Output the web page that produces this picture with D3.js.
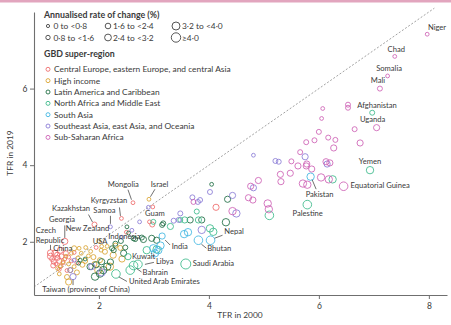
<!DOCTYPE html>
<html>
<head>
<meta charset="utf-8">
<script src="https://cdn.jsdelivr.net/npm/d3@7"></script>
<style>
body { margin: 0; background: #fff; }
text { font-family: Lato, "Open Sans", sans-serif; fill: #3a3a3a; }
</style>
</head>
<body>
<svg width="451" height="325"></svg>
<script>
// TFR in 2000 vs TFR in 2019, one circle per country
// each row: [TFR 2000, TFR 2019]
var centralEurope = [[1.12,1.62],[1.15,1.55],[1.18,1.48],[1.20,1.70],[1.22,1.42],[1.25,1.58],[1.28,1.50],[1.30,1.35],
    [1.32,1.62],[1.17,1.38],[1.35,1.45],[1.38,1.55],[1.24,1.66],[1.40,1.70],[1.30,1.78],[1.45,1.60],[1.28,1.28],
    [1.50,1.50],[1.55,1.72],[1.60,1.45],[1.42,1.25],[2.97,2.45],[2.92,2.52],[4.13,2.90],[2.98,2.91],[1.95,1.85],[2.50,2.25]];
var highIncome = [[1.30,1.37],[1.28,1.16],[1.48,1.26],[1.75,1.50],[1.81,1.63],[2.02,1.52],[2.11,1.74],[2.26,1.65],
    [2.39,1.84],[2.42,1.55],[2.20,1.35],[1.99,1.26],[1.55,1.83],[1.64,1.83],[1.76,1.85],[1.40,1.62],[1.35,1.48],
    [1.45,1.42],[1.55,1.35],[1.62,1.58],[1.68,1.70],[1.70,1.40],[1.85,1.75],[1.90,1.60],[1.60,1.20],[1.42,1.08],
    [1.45,0.95],[1.25,1.30],[2.30,1.90],[2.15,1.88],[1.92,1.42],[2.05,1.88],[1.50,1.70]];
var latinAmerica = [[1.66,1.52],[1.63,1.44],[1.84,1.35],[1.93,1.09],[2.05,1.48],[2.15,1.35],[2.08,1.26],[2.02,1.17],
    [2.24,1.83],[2.27,1.78],[2.48,1.85],[2.51,2.39],[2.54,2.23],[2.63,2.09],[2.66,2.07],[2.81,2.06],[2.78,2.11],
    [2.96,2.09],[3.05,2.04],[3.15,2.44],[3.17,2.48],[3.66,2.57],[3.87,2.57],[4.05,3.50],[4.34,3.11],[4.31,2.51],
    [2.21,1.47],[2.30,1.95],[1.75,1.55],[2.40,2.02],[2.45,1.70],[1.95,1.40]];
var northAfrica = [[6.25,3.63],[5.10,2.69],[2.57,1.26],[2.87,1.78],[3.05,1.80],[2.99,2.52],[3.48,2.57],[3.56,2.57],
    [3.78,2.79],[3.81,2.57],[4.02,2.35],[4.08,2.26],[3.30,2.40]];
var southAsia = [[2.99,1.83],[3.08,1.78],[3.12,1.90],[3.02,1.70],[3.55,2.20],[3.62,2.25]];
var southeastAsia = [[4.81,4.26],[5.21,4.11],[5.27,4.09],[5.75,4.22],[6.15,4.03],[4.43,3.21],[4.50,2.74],[4.81,3.41],
    [3.84,3.09],[3.70,3.16],[3.80,3.04],[3.48,2.74],[3.36,2.55],[2.74,2.52],[3.45,2.57],[3.87,2.31],[1.48,1.26],
    [1.87,1.35],[2.05,1.20],[2.60,2.30],[4.02,3.30]];
var subSaharan = [[6.53,5.50],[6.53,5.58],[6.07,5.48],[6.05,5.22],[6.65,4.94],[6.00,4.87],[6.17,4.72],[6.30,4.66],
    [5.92,4.65],[5.77,4.60],[6.75,4.58],[6.27,4.45],[5.66,4.34],[5.62,3.98],[5.78,4.03],[5.77,3.98],[5.87,3.90],
    [6.13,4.09],[6.04,3.68],[6.18,3.63],[5.30,3.76],[5.48,3.79],[5.31,3.57],[5.71,3.52],[5.79,3.49],[4.76,3.45],
    [4.72,3.15],[4.80,3.09],[5.07,3.00],[5.09,2.85],[4.43,2.80],[3.72,3.04],[6.20,4.06],[4.90,3.60],[5.50,4.10]];

// labelled countries: [name, region index, TFR 2000, TFR 2019]
var namedCountries = [
    ["Niger", 6, 7.97, 7.42], ["Chad", 6, 7.38, 6.84], ["Somalia", 6, 7.25, 6.33], ["Mali", 6, 7.11, 6.00],
    ["Afghanistan", 3, 6.97, 5.37], ["Uganda", 6, 7.05, 4.98], ["Yemen", 3, 6.93, 3.87],
    ["Equatorial Guinea", 6, 6.45, 3.45], ["Pakistan", 4, 5.85, 3.70], ["Palestine", 3, 5.79, 2.97],
    ["Nepal", 4, 4.03, 2.04], ["Bhutan", 4, 3.81, 2.04], ["India", 4, 3.15, 2.15], ["Saudi Arabia", 3, 3.58, 1.42],
    ["Libya", 3, 2.71, 1.41], ["Kuwait", 3, 2.53, 1.61], ["Bahrain", 3, 2.63, 1.38],
    ["United Arab Emirates", 3, 2.31, 1.16], ["Taiwan (province of China)", 5, 1.53, 1.09], ["China", 5, 1.55, 1.52],
    ["Czech Republic", 0, 1.12, 1.71], ["Georgia", 0, 1.38, 2.01], ["Kazakhstan", 0, 1.92, 2.45],
    ["New Zealand", 1, 2.00, 2.02], ["USA", 1, 2.04, 1.78], ["Samoa", 5, 2.21, 2.39], ["Kyrgyzstan", 0, 2.41, 2.61],
    ["Mongolia", 0, 2.62, 3.02], ["Israel", 1, 2.91, 3.11], ["Guam", 5, 2.90, 2.90], ["Indonesia", 5, 2.42, 2.12]
];

var regionNames = ["Central Europe, eastern Europe, and central Asia", "High income", "Latin America and Caribbean",
    "North Africa and Middle East", "South Asia", "Southeast Asia, east Asia, and Oceania", "Sub-Saharan Africa"];
var rateLabels = ["0 to <0\u00b78", "0\u00b78 to <1\u00b76", "1\u00b76 to <2\u00b74", "2\u00b74 to <3\u00b72", "3\u00b72 to <4\u00b70", "\u22654\u00b70"];
var rateBreaks = [0.8, 1.6, 2.4, 3.2, 4.0];
var xTicks = [2, 4, 6, 8];
var yTicks = [2, 4, 6];

// layout
var regionColors = ["#ee6c6c", "#d9a431", "#1f6d43", "#3bb98a", "#40b6e2", "#8a7cd6", "#cd61b5"];
var radii = [1.9, 2.5, 3.1, 3.7, 4.3, 5.0];

// label offsets from the point in px: [dx, dy, anchor, leader x1,y1,x2,y2]
var labelLayout = {
    "Niger": [0.7, -4.2, "start"], "Chad": [1.5, -4.8, "middle"], "Somalia": [1.5, -5, "middle"],
    "Mali": [-2, -6, "middle"], "Afghanistan": [-15, -5, "start"], "Uganda": [-4, -5.7, "middle"],
    "Yemen": [0, -6.2, "middle"], "Equatorial Guinea": [7, 1.5, "start"],
    "Pakistan": [9, 20.3, "middle", 1.5, 3, 5.5, 12.5], "Palestine": [0.4, 11.7, "middle"],
    "Nepal": [13.7, -6.2, "start", 4, -2, 12, -5], "Bhutan": [8.8, 10.8, "start", 3, 4, 8, 8],
    "India": [9.5, 13.3, "start", 3, 4, 8, 9], "Saudi Arabia": [7, 2, "start"],
    "Libya": [18, -0.7, "start", 7, 0, 16, -2], "Kuwait": [4, 2.3, "start"],
    "Bahrain": [9, 9.8, "start", 3, 3, 8, 6.5], "United Arab Emirates": [13, 10, "start", 3, 3, 11, 7.5],
    "Taiwan (province of China)": [13, 15, "middle", 0, 3, 0, 8.5], "China": [-21, -9, "start"],
    "Czech Republic": [-14.7, -10.2, "start", 0, -3, 0, -8], "Georgia": [-2.8, -19.4, "middle", 0, -3.5, 0, -16],
    "Kazakhstan": [-4.5, -13.5, "end", -2, -2.5, -6, -10], "New Zealand": [10.4, -10, "end"],
    "USA": [-1, -6.2, "middle"], "Samoa": [-6, -14, "middle", 0, -3, 0, -11],
    "Kyrgyzstan": [-12.5, -15, "middle", -1, -2.5, -2, -11], "Mongolia": [-9.7, -16, "middle", -1.5, -3, -5, -13],
    "Israel": [10.7, -12.6, "middle", 1.5, -2.5, 6, -10], "Guam": [6.6, 8.4, "middle"],
    "Indonesia": [-13.7, 1.5, "start"]
};

var svg = d3.select("svg");
var plotLeft = 34, plotRight = 447, plotTop = 12, plotBottom = 295;

var x = d3.scaleLinear().domain([0.82, 8.33]).range([plotLeft, plotRight]);
var y = d3.scaleLinear().domain([0.61, 8.0]).range([plotBottom, plotTop]);
var size = d3.scaleThreshold().domain(rateBreaks).range(radii);

// annualised rate of change, absolute, in %
function rate(d) { return Math.abs(Math.log(d[1] / d[0]) / 19 * 100); }

// pink strip at the top
svg.append("rect").attr("x", 0).attr("y", 0).attr("width", 451).attr("height", 2.5).attr("fill", "#e2a5be");

// y = x reference line
svg.append("line")
    .attr("x1", x(0.82)).attr("y1", y(0.82)).attr("x2", x(8.1)).attr("y2", y(8.1))
    .attr("stroke", "#8a8a8a").attr("stroke-width", 0.8).attr("stroke-dasharray", "2,1.8");

// axes
var xAxis = svg.append("g").attr("transform", "translate(0," + plotBottom + ")")
    .call(d3.axisBottom(x).tickValues(xTicks).tickSize(4).tickSizeOuter(0).tickPadding(4));
var yAxis = svg.append("g").attr("transform", "translate(" + plotLeft + ",0)")
    .call(d3.axisLeft(y).tickValues(yTicks).tickSize(4).tickSizeOuter(0).tickPadding(2.5));
[xAxis, yAxis].forEach(function(g) {
    g.select(".domain").attr("stroke", "#6f6f6f").attr("stroke-width", 1.1);
    g.selectAll(".tick line").attr("stroke", "#6f6f6f").attr("stroke-width", 1);
    g.selectAll(".tick text").attr("font-size", 8.5).attr("font-family", "Lato, sans-serif").attr("fill", "#444");
});

svg.append("text").attr("x", 240).attr("y", 317.5).attr("text-anchor", "middle")
    .attr("font-size", 8.4).text("TFR in 2000");
svg.append("text").attr("transform", "translate(12.5,153) rotate(-90)").attr("text-anchor", "middle")
    .attr("font-size", 8.4).text("TFR in 2019");

// circles
var allPoints = [];
[centralEurope, highIncome, latinAmerica, northAfrica, southAsia, southeastAsia, subSaharan].forEach(function(arr, r) {
    arr.forEach(function(d) { allPoints.push({ region: r, v: d }); });
});
namedCountries.forEach(function(n) { allPoints.push({ region: n[1], v: [n[2], n[3]], name: n[0] }); });

svg.append("g").selectAll("circle").data(allPoints).join("circle")
    .attr("cx", function(d) { return x(d.v[0]); })
    .attr("cy", function(d) { return y(d.v[1]); })
    .attr("r", function(d) { return size(rate(d.v)); })
    .attr("fill", "none")
    .attr("stroke", function(d) { return regionColors[d.region]; })
    .attr("stroke-width", 0.85);

// country labels and leader lines
var named = allPoints.filter(function(d) { return d.name; });
var lab = svg.append("g");
named.forEach(function(d) {
    var L = labelLayout[d.name];
    var px = x(d.v[0]), py = y(d.v[1]);
    if (L.length > 3) {
        lab.append("line").attr("x1", px + L[3]).attr("y1", py + L[4]).attr("x2", px + L[5]).attr("y2", py + L[6])
            .attr("stroke", "#333").attr("stroke-width", 0.7);
    }
    if (d.name == "Czech Republic") {
        lab.append("text").attr("x", px + L[0]).attr("y", py + L[1] - 10).attr("font-size", 7.6).text("Czech");
        lab.append("text").attr("x", px + L[0]).attr("y", py + L[1]).attr("font-size", 7.6).text("Republic");
        return;
    }
    lab.append("text").attr("x", px + L[0]).attr("y", py + L[1]).attr("text-anchor", L[2])
        .attr("font-size", 7.6).text(d.name);
});

// legend: rate of change
var leg = svg.append("g");
leg.append("text").attr("x", 44).attr("y", 18).attr("font-size", 8.8).attr("font-weight", "bold")
    .text("Annualised rate of change (%)");
var colX = [48, 108, 176];
rateLabels.forEach(function(t, i) {
    var cx = colX[Math.floor(i / 2)], cy = i % 2 == 0 ? 26 : 37.5;
    leg.append("circle").attr("cx", cx).attr("cy", cy).attr("r", radii[i] - 0.3)
        .attr("fill", "none").attr("stroke", "#444").attr("stroke-width", 0.9);
    var tx = [53.5, 53.5, 113, 113, 182, 182][i];
    leg.append("text").attr("x", tx).attr("y", cy + 3).attr("font-size", 8.4).text(t);
});

// legend: super-region
leg.append("text").attr("x", 44).attr("y", 56.5).attr("font-size", 8.8).attr("font-weight", "bold")
    .text("GBD super-region");
regionNames.forEach(function(t, i) {
    var cy = 69.3 + i * 11.35;
    leg.append("circle").attr("cx", 48).attr("cy", cy).attr("r", 2)
        .attr("fill", "none").attr("stroke", regionColors[i]).attr("stroke-width", 0.9);
    leg.append("text").attr("x", 54).attr("y", cy + 3).attr("font-size", 8.4).text(t);
});
</script>
</body>
</html>
